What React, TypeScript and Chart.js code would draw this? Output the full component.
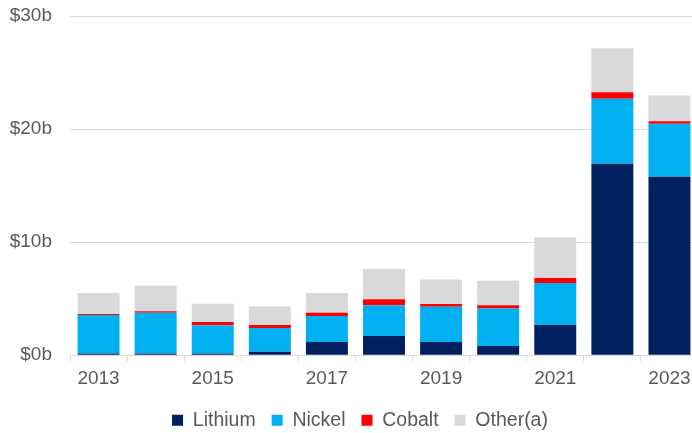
import React, { useEffect, useRef } from "react";
import { Chart, registerables } from "chart.js";

Chart.register(...registerables);

const years = ["2013", "2014", "2015", "2016", "2017", "2018", "2019", "2020", "2021", "2022", "2023"];
const lithium = [0.15, 0.15, 0.15, 0.3, 1.18, 1.71, 1.18, 0.82, 2.68, 16.93, 15.78];
const nickel = [3.4, 3.6, 2.5, 2.12, 2.3, 2.71, 3.1, 3.31, 3.72, 5.75, 4.69];
const cobalt = [0.1, 0.15, 0.3, 0.26, 0.27, 0.53, 0.26, 0.29, 0.44, 0.57, 0.23];
const other = [1.85, 2.25, 1.6, 1.62, 1.75, 2.69, 2.16, 2.16, 3.6, 3.89, 2.28];
const seriesNames = ["Lithium", "Nickel", "Cobalt", "Other(a)"];
const seriesColors = ["#002060", "#00B0F0", "#FF0000", "#D9D9D9"];
const yMin = 0;
const yMax = 30;
const yStep = 10;

const FONT = "'Liberation Sans', Arial, sans-serif";
const TEXT = "#595959";

const legendShift = {
  id: "legendShift",
  afterLayout(chart: any) {
    if (chart.legend) {
      chart.legend.left += 11;
      chart.legend.right += 11;
    }
  },
};

export default function App() {
  const ref = useRef<HTMLCanvasElement>(null);
  useEffect(() => {
    const values = [lithium, nickel, cobalt, other];
    const chart = new Chart(ref.current as HTMLCanvasElement, {
      type: "bar",
      data: {
        labels: years,
        datasets: values.map((v, i) => ({
          label: seriesNames[i],
          data: v,
          backgroundColor: seriesColors[i],
          borderWidth: 0,
          categoryPercentage: 1,
          barPercentage: 0.735,
        })),
      },
      plugins: [legendShift],
      options: {
        animation: false,
        responsive: false,
        layout: { padding: { left: 0, right: 2, top: 16, bottom: 0 } },
        plugins: {
          legend: {
            position: "bottom",
            labels: {
              boxWidth: 11,
              boxHeight: 11,
              padding: 16,
              color: TEXT,
              font: { family: FONT, size: 19.5 },
            },
          },
          tooltip: { enabled: false },
        },
        scales: {
          x: {
            stacked: true,
            grid: {
              drawOnChartArea: false,
              drawTicks: true,
              tickLength: 6,
              color: "#d9d9d9",
              offset: true,
            },
            border: { color: "#d9d9d9" },
            ticks: {
              autoSkip: false,
              maxRotation: 0,
              padding: 6,
              color: TEXT,
              font: { family: FONT, size: 19 },
              callback: (_v: any, i: number) => (i % 2 === 0 ? years[i] : ""),
            },
            afterFit: (s: any) => {
              s.height = 39.25;
            },
          } as any,
          y: {
            stacked: true,
            min: yMin,
            max: yMax,
            ticks: {
              stepSize: yStep,
              padding: 18,
              color: TEXT,
              font: { family: FONT, size: 19 },
              callback: (v: any) => "$" + v + "b",
            },
            grid: { color: "#d9d9d9", drawTicks: false },
            border: { display: false },
            afterFit: (s: any) => {
              s.width = 70;
              s.paddingTop = 0;
              s.paddingBottom = 0;
            },
          } as any,
        },
      },
    });
    return () => chart.destroy();
  }, []);
  return (
    <div style={{ position: "fixed", left: 0, top: 0, width: 700, height: 440, background: "#fff" }}>
      <canvas ref={ref} width={700} height={440} style={{ width: 700, height: 440 }} />
    </div>
  );
}
